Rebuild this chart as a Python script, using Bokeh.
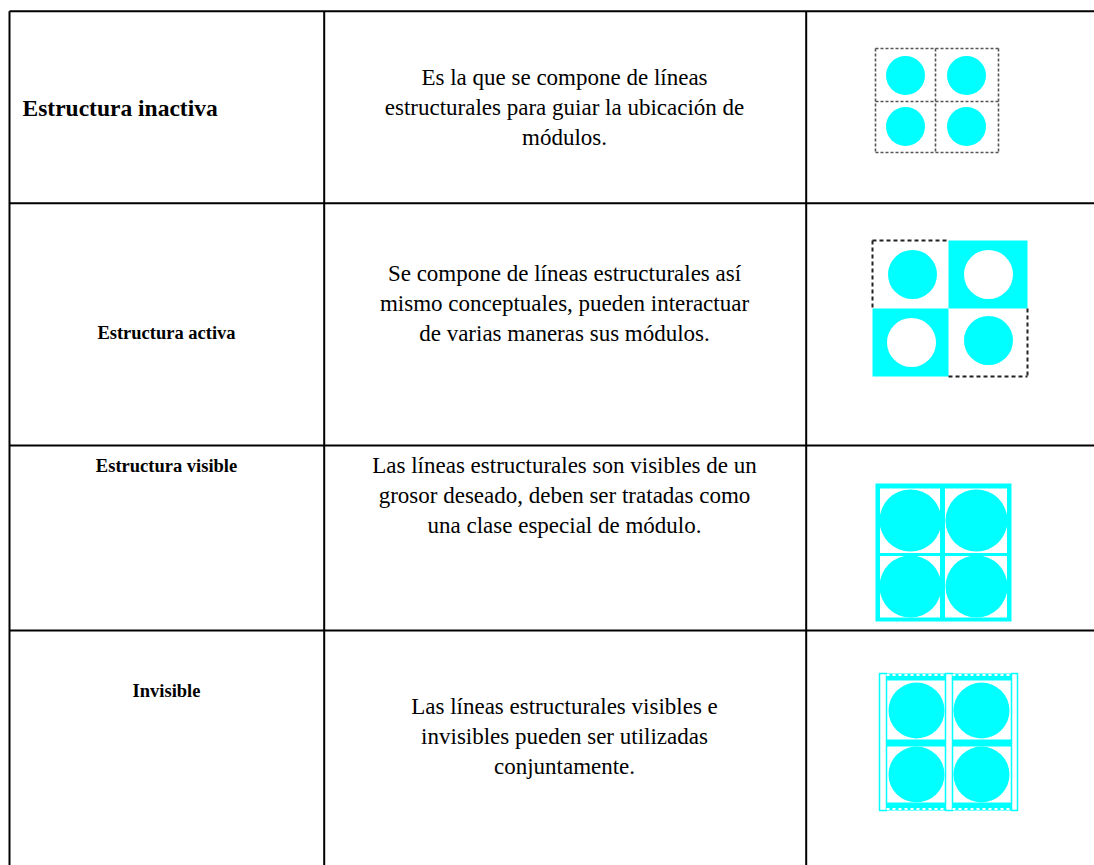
from bokeh.plotting import figure
from bokeh.models import Range1d
from bokeh.core.properties import value
from bokeh.embed import file_html
from bokeh.resources import INLINE

# ---- table content ----
labels = ["Estructura inactiva", "Estructura activa", "Estructura visible", "Invisible"]
descriptions = [
    ["Es la que se compone de líneas", "estructurales para guiar la ubicación de", "módulos."],
    ["Se compone de líneas estructurales así", "mismo conceptuales, pueden interactuar", "de varias maneras sus módulos."],
    ["Las líneas estructurales son visibles de un", "grosor deseado, deben ser tratadas como", "una clase especial de módulo."],
    ["Las líneas estructurales visibles e", "invisibles pueden ser utilizadas", "conjuntamente."],
]

# ---- layout (screen pixel coordinates) ----
W, H = 1094, 865
col_edges = [9, 323.7, 805.7]
row_edges = [10.7, 202.7, 445, 630]
label_y = [107, 332, 465, 690]
label_x = [22, 166, 166, 166]
label_align = ["left", "center", "center", "center"]
label_size = ["23.5px", "18.5px", "18.5px", "18.5px"]
desc_y0 = [77, 273, 465, 706]
desc_x = 564
line_step = 30
CYAN = "#00FFFF"
FONT = value("Liberation Serif")

p = figure(width=W, height=H, x_range=Range1d(0, W), y_range=Range1d(H, 0),
           output_backend="svg", toolbar_location=None, min_border=0,
           x_axis_location=None, y_axis_location=None)
p.grid.visible = False
p.outline_line_color = None
p.background_fill_color = "white"
p.border_fill_color = "white"

# ---- table lines ----
hx0 = [col_edges[0]] * len(row_edges)
hx1 = [W] * len(row_edges)
p.segment(x0=hx0, y0=row_edges, x1=hx1, y1=row_edges, line_color="black", line_width=2)
vy0 = [row_edges[0]] * len(col_edges)
vy1 = [H] * len(col_edges)
p.segment(x0=col_edges, y0=vy0, x1=col_edges, y1=vy1, line_color="black", line_width=2)

# ---- texts ----
for i, lab in enumerate(labels):
    p.text(x=[label_x[i]], y=[label_y[i]], text=[lab], text_font=FONT, text_font_size=label_size[i],
           text_font_style="bold", text_align=label_align[i], text_baseline="middle", text_color="black")
for i, lines in enumerate(descriptions):
    ys = [desc_y0[i] + k * line_step for k in range(len(lines))]
    p.text(x=[desc_x] * len(lines), y=ys, text=lines, text_font=FONT, text_font_size="23px",
           text_align="center", text_baseline="middle", text_color="black")

# ---- icon 1: inactive structure (dotted grid) ----
p.circle(x=[905, 966, 905, 966], y=[75, 75, 126, 126], radius=19.5, fill_color=CYAN, line_color=None)
x0, x1, xm = 875, 998, 935
y0, y1, ym = 48, 152, 101
p.segment(x0=[x0, x0, x0, x0, x1, xm], y0=[y0, y1, ym, y0, y0, y0],
          x1=[x1, x1, x1, x0, x1, xm], y1=[y0, y1, ym, y1, y1, y1],
          line_color="#555555", line_width=1.6, line_dash="3 2")

# ---- icon 2: active structure ----
ax0, axm, ax1 = 872, 948, 1027
ay0, aym, ay1 = 240, 308, 376
p.quad(left=[axm, ax0], right=[ax1, axm], top=[ay0, aym], bottom=[aym, ay1], fill_color=CYAN, line_color=None)
p.circle(x=[912, 988], y=[274, 340], radius=24.5, fill_color=CYAN, line_color=None)
p.circle(x=[988, 911], y=[274, 342], radius=24.5, fill_color="white", line_color=None)
p.segment(x0=[ax0, ax0, ax1, axm], y0=[ay0, ay0, aym, ay1], x1=[axm, ax0, ax1, ax1], y1=[ay0, aym, ay1, ay1],
          line_color="#222222", line_width=2, line_dash="4 3")

# ---- icon 3: visible structure ----
p.quad(left=[875], right=[1011], top=[483], bottom=[621], fill_color=CYAN, line_color=None)
p.quad(left=[879.5, 944.5, 879.5, 944.5], right=[939.5, 1006.5, 939.5, 1006.5],
       top=[488, 488, 555.5, 555.5], bottom=[552.5, 552.5, 617, 617], fill_color="white", line_color=None)
p.circle(x=[910, 976, 910, 976], y=[520, 520, 586, 586], radius=31, fill_color=CYAN, line_color=None)

# ---- icon 4: invisible structure ----
bars_l = [879, 945, 1011]
bars_r = [886, 952, 1017]
iy0, iy1 = 673, 810
p.quad(left=bars_l, right=bars_r, top=[iy0] * 3, bottom=[iy1] * 3, fill_color="white",
       line_color=CYAN, line_width=1.5)
band_l = [886, 952, 886, 952, 886, 952]
band_r = [945, 1011, 945, 1011, 945, 1011]
band_t = [673, 673, 739, 739, 802, 802]
band_b = [680, 680, 746, 746, 810, 810]
p.quad(left=band_l, right=band_r, top=band_t, bottom=band_b, fill_color=CYAN, line_color=None)
p.segment(x0=[886, 952, 886, 952], y0=[674.5, 674.5, 808.5, 808.5], x1=[945, 1011, 945, 1011],
          y1=[674.5, 674.5, 808.5, 808.5], line_color="white", line_width=2, line_dash="3 3")
p.circle(x=[916, 981, 916, 981], y=[710, 710, 774, 774], radius=28, fill_color=CYAN, line_color=None)

open("out.html", "w").write(file_html(p, INLINE))
